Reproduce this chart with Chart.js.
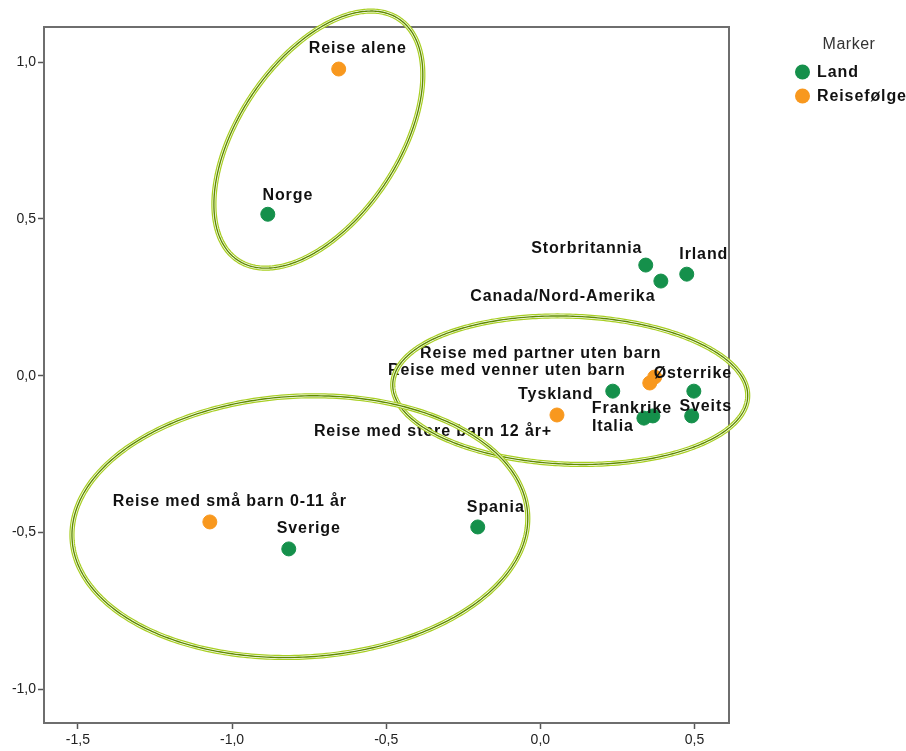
<!DOCTYPE html>
<html>
<head>
<meta charset="utf-8">
<script src="https://cdn.jsdelivr.net/npm/chart.js@4"></script>
<style>
html,body{margin:0;padding:0;background:#fff;}
#wrap{width:906px;height:751px;}
</style>
</head>
<body>
<div id="wrap"><canvas id="c" width="906" height="751"></canvas></div>
<script>
// ---- data ----
const landNames = ['Norge','Storbritannia','Canada/Nord-Amerika','Irland','Tyskland','Østerrike','Frankrike','Italia','Sveits','Spania','Sverige'];
const landX = [-0.884, 0.342, 0.391, 0.475, 0.235, 0.498, 0.336, 0.365, 0.491, -0.203, -0.816];
const landY = [0.515, 0.353, 0.302, 0.324, -0.049, -0.049, -0.135, -0.128, -0.128, -0.482, -0.552];

const reiseNames = ['Reise alene','Reise med partner uten barn','Reise med venner uten barn','Reise med store barn 12 år+','Reise med små barn 0-11 år'];
const reiseX = [-0.654, 0.371, 0.355, 0.054, -1.072];
const reiseY = [0.978, -0.004, -0.023, -0.125, -0.466];

const seriesNames = ['Land','Reisefølge'];
const legendTitle = 'Marker';

const xTickValues = [-1.5, -1.0, -0.5, 0.0, 0.5];
const xTickLabels = ['-1,5','-1,0','-0,5','0,0','0,5'];
const yTickValues = [-1.0, -0.5, 0.0, 0.5, 1.0];
const yTickLabels = ['-1,0','-0,5','0,0','0,5','1,0'];

// ellipse annotations (data units): centre, semi-axes, rotation (deg)
const ellipseCX = [-0.720, 0.097, -0.780];
const ellipseCY = [0.753, -0.046, -0.481];
const ellipseA = [0.465, 0.576, 0.740];
const ellipseB = [0.258, 0.236, 0.416];
const ellipseRot = [55.4, -2, 3];

// ---- label placement (pixel offsets from the point) ----
const labelOffsets = {
  'Norge':[20,-19], 'Storbritannia':[-59,-16], 'Canada/Nord-Amerika':[-98,16], 'Irland':[17,-20],
  'Tyskland':[-57,3], 'Østerrike':[-1,-18], 'Frankrike':[-12,-10], 'Italia':[-40,11], 'Sveits':[14,-9],
  'Spania':[18,-19], 'Sverige':[20,-20],
  'Reise alene':[19,-20], 'Reise med partner uten barn':[-114,-23], 'Reise med venner uten barn':[-143,-12],
  'Reise med store barn 12 år+':[-124,17], 'Reise med små barn 0-11 år':[20,-20]
};

const GREEN = '#15904b';
const ORANGE = '#f8981e';
const FONT = '"Liberation Sans", Arial, sans-serif';

function toPts(xs, ys){ return xs.map((x,i)=>({x:x, y:ys[i]})); }

const labelPlugin = {
  id:'labels',
  afterDatasetsDraw(chart){
    const ctx = chart.ctx;
    const nameLists = [landNames, reiseNames];
    ctx.save();
    ctx.font = 'bold 16px ' + FONT;
    ctx.fillStyle = '#111';
    ctx.textAlign = 'center';
    ctx.textBaseline = 'middle';
    try { ctx.letterSpacing = '0.9px'; } catch(e) {}
    chart.data.datasets.forEach((ds, di) => {
      const meta = chart.getDatasetMeta(di);
      meta.data.forEach((el, j) => {
        const name = nameLists[di][j];
        const off = labelOffsets[name] || [20,-20];
        ctx.fillText(name, el.x + off[0], el.y + off[1]);
      });
    });
    ctx.restore();

    // ellipses
    const xs = chart.scales.x, ys = chart.scales.y;
    ctx.save();
    for (let k = 0; k < ellipseCX.length; k++) {
      const th = ellipseRot[k] * Math.PI / 180;
      ctx.beginPath();
      for (let s = 0; s <= 360; s++) {
        const t = s * Math.PI / 180;
        const dx = ellipseA[k]*Math.cos(t)*Math.cos(th) - ellipseB[k]*Math.sin(t)*Math.sin(th);
        const dy = ellipseA[k]*Math.cos(t)*Math.sin(th) + ellipseB[k]*Math.sin(t)*Math.cos(th);
        const px = xs.getPixelForValue(ellipseCX[k] + dx);
        const py = ys.getPixelForValue(ellipseCY[k] + dy);
        if (s === 0) ctx.moveTo(px, py); else ctx.lineTo(px, py);
      }
      ctx.closePath();
      ctx.lineWidth = 5.2; ctx.strokeStyle = '#a8cf22'; ctx.stroke();
      ctx.lineWidth = 2.8; ctx.strokeStyle = '#ffffff'; ctx.stroke();
      ctx.lineWidth = 1.4; ctx.strokeStyle = '#5f8a00'; ctx.stroke();
    }
    ctx.restore();
  },
  beforeDatasetsDraw(chart){
    const ctx = chart.ctx, a = chart.chartArea;
    ctx.save();
    ctx.strokeStyle = '#6e6e6e';
    ctx.lineWidth = 2;
    ctx.strokeRect(a.left, a.top, a.right - a.left, a.bottom - a.top);
    ctx.restore();
  },
  afterDraw(chart){
    const ctx = chart.ctx;
    ctx.save();
    ctx.textBaseline = 'middle';
    ctx.textAlign = 'center';
    ctx.fillStyle = '#333';
    ctx.font = '16px ' + FONT;
    try { ctx.letterSpacing = '0.5px'; } catch(e) {}
    ctx.fillText(legendTitle, 849, 45);
    const cols = [GREEN, ORANGE];
    const ys = [72, 96];
    ctx.font = 'bold 16px ' + FONT;
    try { ctx.letterSpacing = '0.9px'; } catch(e) {}
    ctx.textAlign = 'left';
    seriesNames.forEach((n, i) => {
      ctx.beginPath();
      ctx.arc(802.5, ys[i], 7.5, 0, Math.PI*2);
      ctx.fillStyle = cols[i];
      ctx.fill();
      ctx.fillStyle = '#111';
      ctx.fillText(n, 817, ys[i] + 1);
    });
    ctx.restore();
  }
};

new Chart(document.getElementById('c'), {
  type: 'scatter',
  data: {
    datasets: [
      { label: seriesNames[0], data: toPts(landX, landY), backgroundColor: GREEN, borderColor: GREEN, borderWidth: 1, pointRadius: 7, pointHoverRadius: 7 },
      { label: seriesNames[1], data: toPts(reiseX, reiseY), backgroundColor: ORANGE, borderColor: ORANGE, borderWidth: 1, pointRadius: 7, pointHoverRadius: 7 }
    ]
  },
  options: {
    responsive: false,
    animation: false,
    layout: { padding: { left: 0, right: 177, top: 27, bottom: 0 } },
    plugins: { legend: { display: false }, tooltip: { enabled: false } },
    scales: {
      x: {
        type: 'linear', min: -1.61, max: 0.612,
        afterBuildTicks: s => { s.ticks = xTickValues.map(v => ({ value: v })); },
        afterFit: s => { s.height = 28; },
        border: { display: false },
        grid: { drawOnChartArea: false, drawTicks: true, tickLength: 6, tickColor: '#555', tickWidth: 1.5 },
        ticks: { padding: 3, color: '#222', font: { family: FONT, size: 14 }, maxRotation: 0,
                 callback: (v, i) => xTickLabels[i] }
      },
      y: {
        type: 'linear', min: -1.107, max: 1.112,
        afterBuildTicks: s => { s.ticks = yTickValues.map(v => ({ value: v })); },
        afterFit: s => { s.width = 44; },
        border: { display: false },
        grid: { drawOnChartArea: false, drawTicks: true, tickLength: 6, tickColor: '#555', tickWidth: 1.5 },
        ticks: { padding: 2, color: '#222', font: { family: FONT, size: 14 },
                 callback: (v, i) => yTickLabels[i] }
      }
    }
  },
  plugins: [labelPlugin]
});
</script>
</body>
</html>
